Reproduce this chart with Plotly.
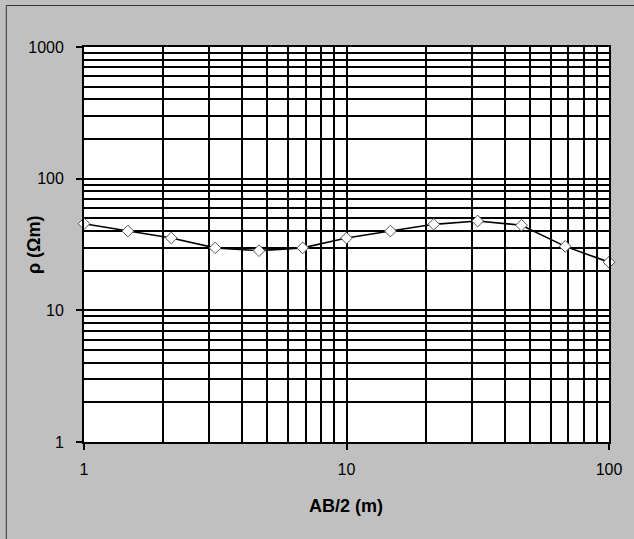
import plotly.graph_objects as go

# Electrode half-spacing AB/2 (m) and apparent resistivity (ohm-m)
ab2 = [1, 1.47, 2.15, 3.16, 4.64, 6.81, 10, 14.7, 21.5, 31.6, 46.4, 68.1, 100]
rho = [45.5, 40.0, 35.4, 29.8, 28.4, 29.8, 35.4, 40.0, 45.0, 47.7, 44.3, 30.6, 23.2]

x_ticks = [1, 10, 100]
y_ticks = [1, 10, 100, 1000]
x_minor = [m * d for d in (1, 10) for m in range(2, 10)]
y_minor = [m * d for d in (1, 10, 100) for m in range(2, 10)]

FONT = "Arial, Liberation Sans"

fig = go.Figure()
fig.add_trace(go.Scatter(
    x=ab2, y=rho, mode="lines+markers",
    line=dict(color="black", width=1.6),
    marker=dict(symbol="diamond", size=9, color="white",
                line=dict(color="#555555", width=1)),
    showlegend=False, cliponaxis=False,
))

axis_common = dict(
    type="log", showgrid=True, gridcolor="black", gridwidth=1.6,
    showline=True, linecolor="black", linewidth=1.8, mirror=True,
    ticks="outside", ticklen=6, tickcolor="black", tickwidth=1.5,
    zeroline=False,
    tickfont=dict(family=FONT, size=16, color="black"),
)

fig.update_xaxes(
    range=[0, 2], tickvals=x_ticks, ticktext=[str(v) for v in x_ticks],
    ticklabelstandoff=6,
    minor=dict(tickvals=x_minor, showgrid=True, gridcolor="black",
               gridwidth=1.6, ticks=""),
    **axis_common,
)
fig.update_yaxes(
    range=[0, 3], tickvals=y_ticks, ticktext=[str(v) for v in y_ticks],
    ticklabelstandoff=9,
    minor=dict(tickvals=y_minor, showgrid=True, gridcolor="black",
               gridwidth=1.6, ticks=""),
    **axis_common,
)

# Axis titles
fig.add_annotation(text="<b>AB/2 (m)</b>", xref="paper", yref="paper",
                   x=0.499, y=-0.162, xanchor="center", yanchor="middle",
                   showarrow=False, font=dict(family=FONT, size=18, color="black"))
fig.add_annotation(text="<b>ρ (Ωm)</b>", xref="paper", yref="paper",
                   x=-0.096, y=0.5, xanchor="center", yanchor="middle",
                   textangle=-90, showarrow=False,
                   font=dict(family=FONT, size=18, color="black"))

# Outer chart frame
fig.add_shape(type="rect", xref="paper", yref="paper",
              x0=-0.148, x1=1.1, y0=-0.3, y1=1.105,
              line=dict(color="#333333", width=1), layer="below")

fig.update_layout(
    width=634, height=539,
    margin=dict(l=84, r=18, t=47, b=97),
    paper_bgcolor="#C0C0C0", plot_bgcolor="white",
    font=dict(family=FONT, size=16, color="black"),
)

fig.write_html("out.html")
